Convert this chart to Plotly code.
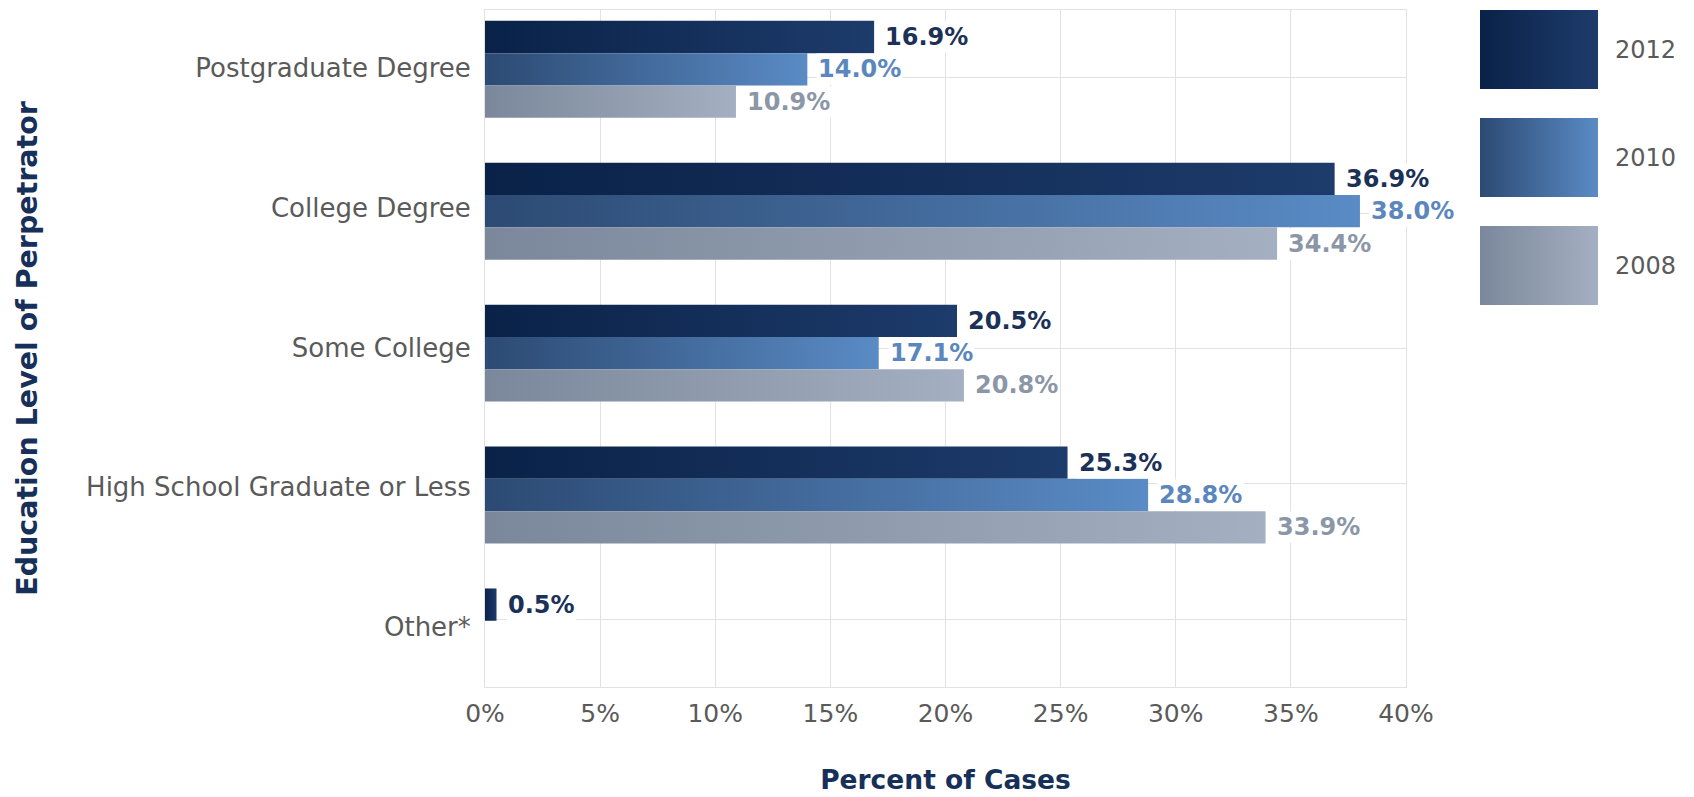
import plotly.graph_objects as go

# ---- data -------------------------------------------------------------
categories = [
    "Postgraduate Degree",
    "College Degree",
    "Some College",
    "High School Graduate or Less",
    "Other*",
]
years = ["2012", "2010", "2008"]
pct_2012 = [16.9, 36.9, 20.5, 25.3, 0.5]
pct_2010 = [14.0, 38.0, 17.1, 28.8, None]
pct_2008 = [10.9, 34.4, 20.8, 33.9, None]
x_tick_values = [0, 5, 10, 15, 20, 25, 30, 35, 40]

# ---- styling ----------------------------------------------------------
W, H = 1694, 797
FONT = "DejaVu Sans"
TITLE_COLOR = "#17305a"
TEXT_GRAY = "#5a5a5a"
GRID = "#e2e2e2"

# per-year: gradient start, gradient end, value-label colour
styles = {
    "2012": ("#0a2248", "#1d3b6b", "#1b3158"),
    "2010": ("#2c4a73", "#5a8bc5", "#5b87be"),
    "2008": ("#7b889b", "#a4b0c1", "#8b97a7"),
}
values_by_year = {"2012": pct_2012, "2010": pct_2010, "2008": pct_2008}

BAR = 0.2276          # bar thickness in category units
Y_RANGE = [4.353, -0.418]
LABEL_STEP = 0.985    # category label spacing in category units


def px_x(p):
    return p / W


def px_y(p):
    return 1 - p / H


fig = go.Figure()
annotations = []

# grouped horizontal bars, each filled with a left-to-right gradient
for k, year in enumerate(years):
    c0, c1, lab = styles[year]
    for i, v in enumerate(values_by_year[year]):
        if v is None:
            continue
        y0 = i + (k - 1.5) * BAR
        y1 = y0 + BAR
        fig.add_trace(go.Scatter(
            x=[0, v, v, 0, 0],
            y=[y0, y0, y1, y1, y0],
            mode="lines",
            line=dict(width=0, color=c1),
            fill="toself",
            fillcolor=c1,
            fillgradient=dict(type="horizontal",
                              colorscale=[[0, c0], [1, c1]]),
            name=year,
            showlegend=False,
            hovertemplate=f"{categories[i]}<br>{year}: {v:.1f}%<extra></extra>",
        ))
        annotations.append(dict(
            x=v, y=(y0 + y1) / 2, xref="x", yref="y",
            text=f"<b>{v:.1f}%</b>", showarrow=False,
            xanchor="left", yanchor="middle", xshift=9,
            bgcolor="white", borderpad=1,
            font=dict(family=FONT, size=24, color=lab),
        ))

# carrier trace for the gridline axis
fig.add_trace(go.Scatter(x=[None], y=[None], yaxis="y3",
                         showlegend=False, hoverinfo="skip"))

# year key: large gradient swatches at the right
for k, year in enumerate(years):
    c0, c1, _ = styles[year]
    fig.add_trace(go.Scatter(
        x=[0, 1, 1, 0, 0],
        y=[k, k, k + 0.731, k + 0.731, k],
        xaxis="x2", yaxis="y4",
        mode="lines", line=dict(width=0, color=c1),
        fill="toself", fillcolor=c1,
        fillgradient=dict(type="horizontal", colorscale=[[0, c0], [1, c1]]),
        showlegend=False, hoverinfo="skip",
    ))
    annotations.append(dict(
        x=1, y=k + 0.366, xref="x2", yref="y4", text=year,
        showarrow=False, xanchor="left", yanchor="middle", xshift=15,
        font=dict(family=FONT, size=24, color=TEXT_GRAY),
    ))

x_dom = [px_x(485), px_x(1406)]
y_dom = [px_y(687), px_y(10)]

fig.update_layout(
    width=W, height=H,
    margin=dict(l=0, r=0, t=0, b=0, autoexpand=False),
    paper_bgcolor="white", plot_bgcolor="white",
    font=dict(family=FONT, color=TEXT_GRAY),
    showlegend=False,
    annotations=annotations,
    xaxis=dict(
        domain=x_dom, range=[0, 40], automargin=False,
        tickvals=x_tick_values,
        ticktext=[f"{t}%" for t in x_tick_values],
        showgrid=True, gridcolor=GRID, gridwidth=1,
        zeroline=False, showline=True, linecolor=GRID, mirror=True,
        ticks="", ticklabelstandoff=4,
        tickfont=dict(family=FONT, size=25, color=TEXT_GRAY),
        title=dict(text="<b>Percent of Cases</b>", standoff=43,
                   font=dict(family=FONT, size=26.5, color=TITLE_COLOR)),
    ),
    yaxis=dict(
        domain=y_dom, range=Y_RANGE, automargin=False,
        tickvals=[i * LABEL_STEP - 0.01 for i in range(len(categories))],
        ticktext=categories,
        showgrid=False, zeroline=False,
        showline=True, linecolor=GRID, mirror=True,
        ticks="", ticklabelstandoff=8,
        tickfont=dict(family=FONT, size=26, color=TEXT_GRAY),
        title=dict(text="<b>Education Level of Perpetrator</b>", standoff=40,
                   font=dict(family=FONT, size=28.5, color=TITLE_COLOR)),
    ),
    yaxis3=dict(
        overlaying="y", range=[5, 0], automargin=False,
        tickvals=[0.5, 1.5, 2.5, 3.5, 4.5],
        showticklabels=False, ticks="",
        showgrid=True, gridcolor=GRID, gridwidth=1,
        zeroline=False, showline=False,
    ),
    xaxis2=dict(domain=[px_x(1480), px_x(1598)], range=[0, 1],
                visible=False, fixedrange=True, automargin=False),
    yaxis4=dict(domain=[px_y(10 + 3 * 108), px_y(10)], range=[3, 0],
                anchor="x2", visible=False, fixedrange=True,
                automargin=False),
)

fig.write_html("out.html")
